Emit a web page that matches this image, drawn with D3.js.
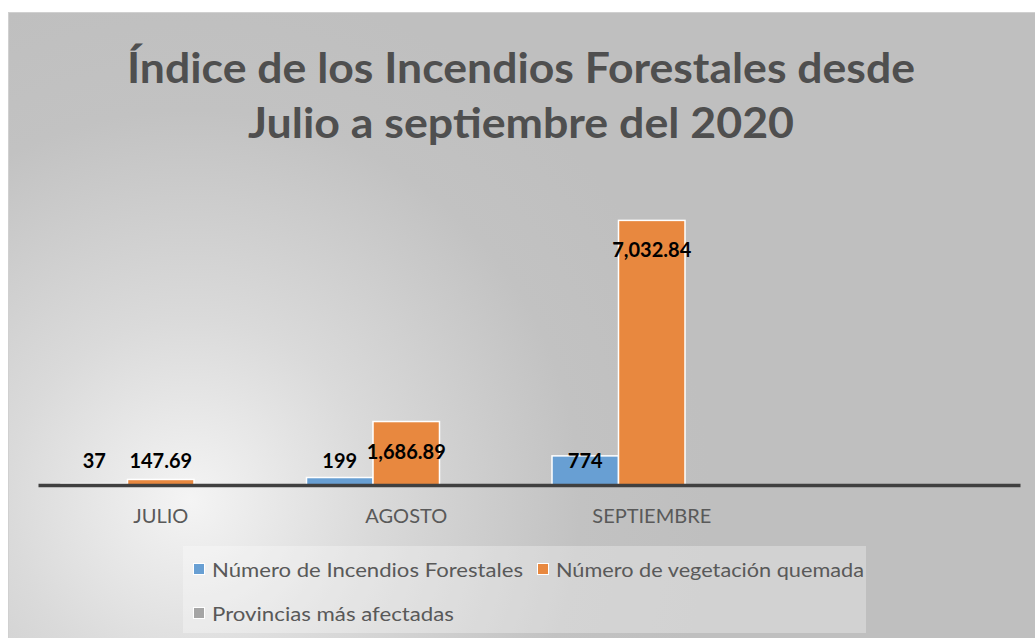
<!DOCTYPE html>
<html>
<head>
<meta charset="utf-8">
<script src="https://cdn.jsdelivr.net/npm/d3@7"></script>
<style>
  body { margin: 0; background: #fff; }
  svg text { font-family: Lato, "Open Sans", sans-serif; }
</style>
</head>
<body>
<svg id="chart" width="1035" height="638"></svg>
<script>
const titleLines = ["Índice de los Incendios Forestales desde", "Julio a septiembre del 2020"];
const categories = ["JULIO", "AGOSTO", "SEPTIEMBRE", ""];
const seriesNames = ["Número de Incendios Forestales", "Número de vegetación quemada", "Provincias más afectadas"];
const incendios = [37, 199, 774, null];
const vegetacion = [147.69, 1686.89, 7032.84, null];
const provincias = [null, null, null, null];
const labelFormats = [d3.format(","), d3.format(",.2f"), d3.format(",")];
const colors = ["#689fd3", "#e8883f", "#a5a5a5"];

const W = 1035, H = 638;
const svg = d3.select("#chart");

// background with a soft radial light in the lower left
const defs = svg.append("defs");
const grad = defs.append("radialGradient")
    .attr("id", "bg")
    .attr("gradientUnits", "userSpaceOnUse")
    .attr("cx", 190).attr("cy", 500).attr("r", 520);
grad.append("stop").attr("offset", "0%").attr("stop-color", "#f4f4f4");
grad.append("stop").attr("offset", "35%").attr("stop-color", "#dadada");
grad.append("stop").attr("offset", "75%").attr("stop-color", "#c2c2c2");
grad.append("stop").attr("offset", "100%").attr("stop-color", "#bfbfbf");

svg.append("rect")
    .attr("x", 8.5).attr("y", 12.5)
    .attr("width", W).attr("height", H)
    .attr("fill", "url(#bg)")
    .attr("stroke", "#d0d0d0");

// title: narrow, tall bold face squeezed to the original widths
const titleY = [83, 138];
const titleW = [788, 546];
svg.append("g").selectAll("text")
    .data(titleLines)
    .join("text")
    .attr("x", 521).attr("y", (d, i) => titleY[i])
    .attr("text-anchor", "middle")
    .attr("font-size", 42).attr("font-weight", 700)
    .attr("fill", "#4f4f4f")
    .attr("textLength", (d, i) => titleW[i])
    .attr("lengthAdjust", "spacingAndGlyphs")
    .text(d => d);

// scales
const base = 485;
const x0 = d3.scaleBand().domain(d3.range(categories.length)).range([38, 1020]).padding(0);
const x1 = d3.scaleBand().domain(d3.range(seriesNames.length)).range([0, x0.bandwidth()])
    .paddingInner(0).paddingOuter(0.346);
const y = d3.scaleLinear().domain([0, 8000]).range([base, 184]);

const seriesValues = [incendios, vegetacion, provincias];
const cells = [];
categories.forEach((c, i) => {
    seriesValues.forEach((vals, s) => {
        if (vals[i] != null) cells.push({cat: i, s: s, v: vals[i]});
    });
});

svg.append("g").selectAll("rect")
    .data(cells)
    .join("rect")
    .attr("x", d => x0(d.cat) + x1(d.s))
    .attr("y", d => y(d.v))
    .attr("width", x1.bandwidth())
    .attr("height", d => base - y(d.v))
    .attr("fill", d => colors[d.s])
    .attr("stroke", "#fff")
    .attr("stroke-width", 1.5);

// axis line
const xAxis = d3.axisBottom(x0).tickSize(0).tickPadding(0).tickFormat(i => categories[i]);
const ax = svg.append("g").attr("transform", `translate(0,${base})`).call(xAxis);
ax.select(".domain").attr("stroke", "#404040").attr("stroke-width", 3.5);
ax.selectAll(".tick text")
    .attr("y", 38)
    .attr("dy", 0)
    .attr("font-size", 20)
    .attr("font-family", "Lato, sans-serif")
    .attr("fill", "#595959");

// data labels
svg.append("g").selectAll("text")
    .data(cells)
    .join("text")
    .attr("x", d => x0(d.cat) + x1(d.s) + x1.bandwidth() / 2)
    .attr("y", d => Math.min(y(d.v) + 31, base - 23) + 6)
    .attr("text-anchor", "middle")
    .attr("font-size", 20)
    .attr("font-weight", 700)
    .attr("fill", "#000")
    .text(d => labelFormats[d.s](d.v));

// legend
const legend = svg.append("g");
legend.append("rect")
    .attr("x", 183).attr("y", 546)
    .attr("width", 683).attr("height", 87)
    .attr("fill", "#fff").attr("fill-opacity", 0.3);
const legendPos = [[193, 570], [537, 570], [193, 614]];
const items = legend.selectAll("g.item")
    .data(seriesNames)
    .join("g").attr("class", "item")
    .attr("transform", (d, i) => `translate(${legendPos[i][0]},${legendPos[i][1]})`);
items.append("rect")
    .attr("x", 0.5).attr("y", -6.5)
    .attr("width", 11).attr("height", 11)
    .attr("fill", (d, i) => colors[i])
    .attr("stroke", "#fff").attr("stroke-width", 1);
items.append("text")
    .attr("x", 19).attr("y", 7)
    .attr("font-size", 19.5)
    .attr("fill", "#595959")
    .attr("textLength", (d, i) => [311, 308, 242][i])
    .attr("lengthAdjust", "spacingAndGlyphs")
    .text(d => d);
</script>
</body>
</html>
